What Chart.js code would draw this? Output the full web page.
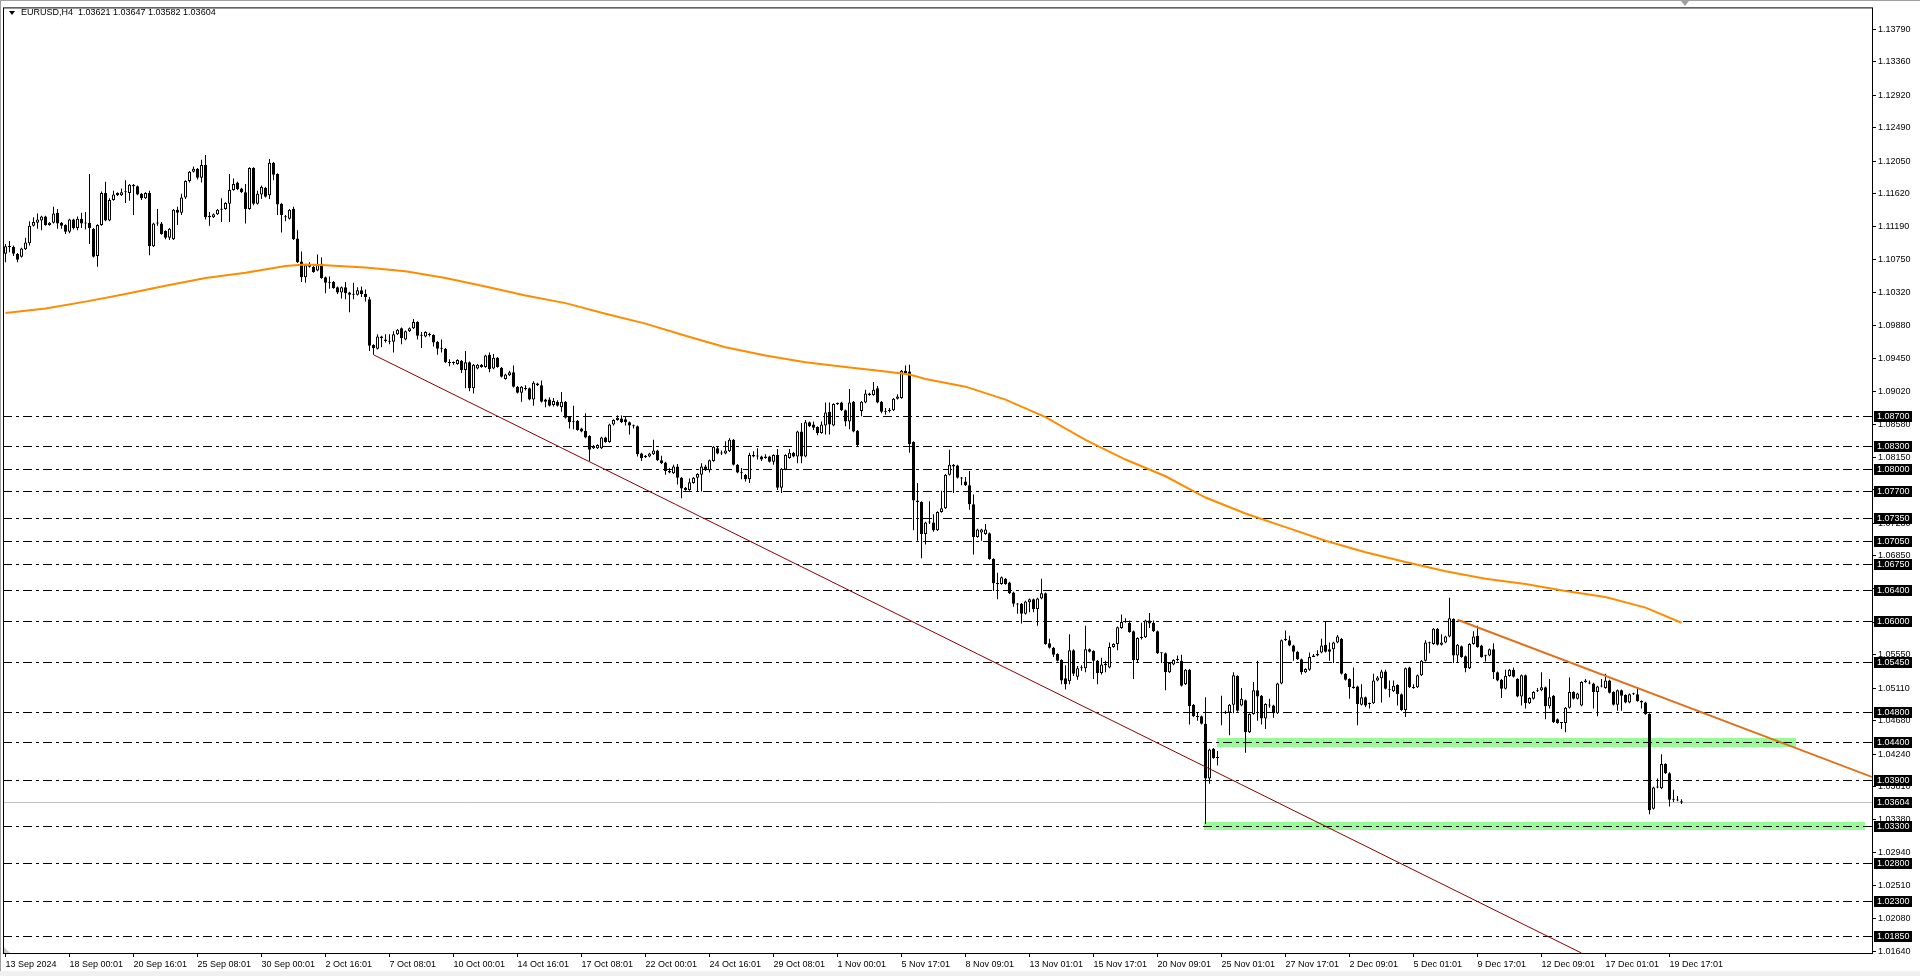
<!DOCTYPE html>
<html>
<head>
<meta charset="utf-8">
<title>EURUSD,H4</title>
<script src="https://cdn.jsdelivr.net/npm/chart.js@4.4.1/dist/chart.umd.min.js"></script>
<style>
  html, body { margin: 0; padding: 0; background: #fff; overflow: hidden; }
  #wrap { position: relative; width: 1920px; height: 976px; }
  #chart { display: block; }
  #tri { position: absolute; left: 9px; top: 11px; width: 0; height: 0;
         border-left: 3px solid transparent; border-right: 3px solid transparent; border-top: 4px solid #000; }
  #header { position: absolute; left: 21px; top: 7px; font: 9px "Liberation Sans", Arial, sans-serif;
            line-height: 11px; color: #000; white-space: pre; }
</style>
</head>
<body>
<div id="wrap">
  <canvas id="chart" width="1920" height="976"></canvas>
  <div id="tri"></div>
  <div id="header"></div>
</div>
<script>
/* ================= DATA ================= */
const symbol = "EURUSD,H4";

// one H4 bar per entry, 13 Sep 2024 08:00 -> 20 Dec 2024
const opens = [
  1.1083, 1.1093, 1.1092, 1.1083, 1.1079, 1.1089, 1.1097, 1.1120, 1.1124, 1.1127,
  1.1132, 1.1121, 1.1124, 1.1137, 1.1124, 1.1121, 1.1112, 1.1128, 1.1117, 1.1129,
  1.1123, 1.1124, 1.1116, 1.1080, 1.1121, 1.1163, 1.1127, 1.1154, 1.1163, 1.1160,
  1.1164, 1.1163, 1.1174, 1.1172, 1.1162, 1.1156, 1.1163, 1.1093, 1.1123, 1.1123,
  1.1113, 1.1104, 1.1102, 1.1141, 1.1137, 1.1157, 1.1179, 1.1191, 1.1195, 1.1183,
  1.1200, 1.1131, 1.1131, 1.1135, 1.1141, 1.1142, 1.1149, 1.1167, 1.1177, 1.1169,
  1.1164, 1.1142, 1.1196, 1.1149, 1.1161, 1.1170, 1.1160, 1.1203, 1.1188, 1.1149,
  1.1131, 1.1129, 1.1142, 1.1103, 1.1073, 1.1052, 1.1066, 1.1066, 1.1061, 1.1070,
  1.1052, 1.1045, 1.1046, 1.1039, 1.1032, 1.1039, 1.1032, 1.1029, 1.1029, 1.1035,
  1.1030, 1.1023, 1.0963, 1.0958, 1.0974, 1.0970, 1.0968, 1.0967, 1.0977, 1.0985,
  1.0970, 1.0981, 1.0985, 1.0993, 1.0975, 1.0974, 1.0977, 1.0976, 1.0967, 1.0959,
  1.0958, 1.0940, 1.0939, 1.0938, 1.0942, 1.0930, 1.0940, 1.0906, 1.0932, 1.0937,
  1.0934, 1.0950, 1.0932, 1.0946, 1.0933, 1.0918, 1.0923, 1.0927, 1.0908, 1.0900,
  1.0906, 1.0906, 1.0891, 1.0912, 1.0910, 1.0891, 1.0891, 1.0884, 1.0888, 1.0881,
  1.0888, 1.0868, 1.0861, 1.0863, 1.0853, 1.0850, 1.0843, 1.0827, 1.0827, 1.0827,
  1.0841, 1.0835, 1.0858, 1.0864, 1.0866, 1.0865, 1.0861, 1.0857, 1.0856, 1.0820,
  1.0815, 1.0816, 1.0819, 1.0824, 1.0811, 1.0808, 1.0795, 1.0794, 1.0803, 1.0788,
  1.0775, 1.0772, 1.0781, 1.0788, 1.0792, 1.0803, 1.0798, 1.0810, 1.0827, 1.0821,
  1.0820, 1.0823, 1.0838, 1.0805, 1.0795, 1.0792, 1.0786, 1.0816, 1.0817, 1.0816,
  1.0814, 1.0816, 1.0809, 1.0818, 1.0775, 1.0799, 1.0814, 1.0821, 1.0816, 1.0849,
  1.0816, 1.0861, 1.0858, 1.0855, 1.0847, 1.0857, 1.0875, 1.0857, 1.0885, 1.0887,
  1.0877, 1.0862, 1.0888, 1.0850, 1.0876, 1.0887, 1.0899, 1.0897, 1.0906, 1.0888,
  1.0875, 1.0876, 1.0877, 1.0892, 1.0893, 1.0929, 1.0928, 1.0835, 1.0758, 1.0756,
  1.0714, 1.0729, 1.0729, 1.0719, 1.0743, 1.0748, 1.0792, 1.0805, 1.0804, 1.0788,
  1.0783, 1.0778, 1.0753, 1.0710, 1.0716, 1.0714, 1.0715, 1.0681, 1.0649, 1.0648,
  1.0655, 1.0650, 1.0637, 1.0622, 1.0622, 1.0609, 1.0624, 1.0628, 1.0615, 1.0629,
  1.0636, 1.0570, 1.0564, 1.0556, 1.0548, 1.0524, 1.0520, 1.0561, 1.0526, 1.0537,
  1.0537, 1.0562, 1.0560, 1.0547, 1.0531, 1.0541, 1.0538, 1.0565, 1.0569, 1.0590,
  1.0598, 1.0597, 1.0586, 1.0548, 1.0577, 1.0578, 1.0600, 1.0597, 1.0586, 1.0557,
  1.0557, 1.0532, 1.0542, 1.0548, 1.0547, 1.0516, 1.0535, 1.0489, 1.0474, 1.0474,
  1.0464, 1.0392, 1.0431, 1.0419, 1.0478, 1.0480, 1.0479, 1.0489, 1.0527, 1.0488,
  1.0495, 1.0453, 1.0477, 1.0508, 1.0501, 1.0471, 1.0489, 1.0488, 1.0478, 1.0517,
  1.0574, 1.0574, 1.0567, 1.0559, 1.0549, 1.0532, 1.0535, 1.0552, 1.0554, 1.0558,
  1.0568, 1.0562, 1.0562, 1.0571, 1.0576, 1.0530, 1.0523, 1.0513, 1.0513, 1.0489,
  1.0499, 1.0490, 1.0491, 1.0521, 1.0524, 1.0533, 1.0509, 1.0507, 1.0515, 1.0503,
  1.0482, 1.0538, 1.0512, 1.0512, 1.0528, 1.0547, 1.0571, 1.0569, 1.0589, 1.0568,
  1.0571, 1.0579, 1.0602, 1.0554, 1.0566, 1.0553, 1.0537, 1.0569, 1.0580, 1.0567,
  1.0553, 1.0554, 1.0562, 1.0532, 1.0522, 1.0510, 1.0527, 1.0535, 1.0523, 1.0500,
  1.0528, 1.0491, 1.0497, 1.0507, 1.0508, 1.0512, 1.0487, 1.0501, 1.0470, 1.0465,
  1.0465, 1.0485, 1.0506, 1.0497, 1.0488, 1.0519, 1.0518, 1.0517, 1.0506, 1.0513,
  1.0511, 1.0521, 1.0506, 1.0489, 1.0508, 1.0502, 1.0492, 1.0503, 1.0503, 1.0494,
  1.0492, 1.0477, 1.0352, 1.0380, 1.0379, 1.0411, 1.0399, 1.0364, 1.0364, 1.03621
];
const highs = [
  1.1096, 1.1100, 1.1094, 1.1084, 1.1091, 1.1104, 1.1126, 1.1131, 1.1136, 1.1133,
  1.1133, 1.1125, 1.1145, 1.1142, 1.1125, 1.1122, 1.1129, 1.1129, 1.1132, 1.1137,
  1.1138, 1.1188, 1.1117, 1.1122, 1.1165, 1.1178, 1.1156, 1.1166, 1.1164, 1.1169,
  1.1180, 1.1175, 1.1175, 1.1173, 1.1163, 1.1164, 1.1166, 1.1124, 1.1142, 1.1125,
  1.1114, 1.1117, 1.1142, 1.1145, 1.1162, 1.1180, 1.1192, 1.1198, 1.1196, 1.1207,
  1.1213, 1.1138, 1.1136, 1.1142, 1.1156, 1.1151, 1.1188, 1.1182, 1.1178, 1.1170,
  1.1175, 1.1197, 1.1197, 1.1166, 1.1173, 1.1171, 1.1208, 1.1204, 1.1189, 1.1150,
  1.1134, 1.1142, 1.1145, 1.1114, 1.1086, 1.1069, 1.1072, 1.1067, 1.1082, 1.1078,
  1.1053, 1.1053, 1.1047, 1.1040, 1.1040, 1.1046, 1.1033, 1.1045, 1.1039, 1.1040,
  1.1036, 1.1026, 1.0964, 1.0977, 1.0975, 1.0977, 1.0977, 1.0981, 1.0984, 1.0986,
  1.0982, 1.0986, 1.0997, 1.0994, 1.0980, 1.0981, 1.0979, 1.0977, 1.0968, 1.0970,
  1.0959, 1.0944, 1.0941, 1.0944, 1.0943, 1.0955, 1.0941, 1.0938, 1.0938, 1.0938,
  1.0950, 1.0953, 1.0951, 1.0947, 1.0934, 1.0925, 1.0929, 1.0936, 1.0909, 1.0909,
  1.0910, 1.0907, 1.0915, 1.0913, 1.0916, 1.0892, 1.0894, 1.0893, 1.0890, 1.0901,
  1.0889, 1.0869, 1.0883, 1.0864, 1.0854, 1.0873, 1.0844, 1.0831, 1.0832, 1.0842,
  1.0842, 1.0859, 1.0865, 1.0870, 1.0870, 1.0868, 1.0862, 1.0858, 1.0857, 1.0821,
  1.0818, 1.0821, 1.0838, 1.0825, 1.0817, 1.0809, 1.0801, 1.0805, 1.0806, 1.0789,
  1.0776, 1.0787, 1.0789, 1.0794, 1.0807, 1.0805, 1.0812, 1.0830, 1.0830, 1.0824,
  1.0836, 1.0840, 1.0839, 1.0806, 1.0801, 1.0793, 1.0821, 1.0823, 1.0827, 1.0817,
  1.0819, 1.0817, 1.0819, 1.0826, 1.0801, 1.0819, 1.0826, 1.0822, 1.0850, 1.0860,
  1.0864, 1.0862, 1.0862, 1.0856, 1.0862, 1.0887, 1.0887, 1.0886, 1.0887, 1.0888,
  1.0878, 1.0905, 1.0889, 1.0851, 1.0889, 1.0904, 1.0900, 1.0914, 1.0909, 1.0889,
  1.0880, 1.0880, 1.0893, 1.0898, 1.0930, 1.0936, 1.0937, 1.0836, 1.0781, 1.0757,
  1.0730, 1.0757, 1.0740, 1.0744, 1.0771, 1.0793, 1.0825, 1.0806, 1.0805, 1.0789,
  1.0789, 1.0797, 1.0766, 1.0721, 1.0721, 1.0727, 1.0716, 1.0682, 1.0663, 1.0658,
  1.0656, 1.0651, 1.0638, 1.0623, 1.0623, 1.0626, 1.0629, 1.0629, 1.0630, 1.0655,
  1.0637, 1.0576, 1.0565, 1.0557, 1.0549, 1.0541, 1.0582, 1.0562, 1.0540, 1.0541,
  1.0593, 1.0563, 1.0561, 1.0548, 1.0551, 1.0547, 1.0571, 1.0570, 1.0592, 1.0608,
  1.0603, 1.0600, 1.0587, 1.0578, 1.0597, 1.0601, 1.0610, 1.0600, 1.0587, 1.0558,
  1.0558, 1.0545, 1.0549, 1.0554, 1.0555, 1.0536, 1.0536, 1.0490, 1.0479, 1.0475,
  1.0499, 1.0431, 1.0432, 1.0428, 1.0501, 1.0481, 1.0490, 1.0532, 1.0528, 1.0511,
  1.0496, 1.0478, 1.0519, 1.0547, 1.0502, 1.0491, 1.0497, 1.0489, 1.0518, 1.0575,
  1.0587, 1.0580, 1.0568, 1.0560, 1.0550, 1.0537, 1.0558, 1.0556, 1.0561, 1.0576,
  1.0599, 1.0571, 1.0572, 1.0581, 1.0577, 1.0531, 1.0524, 1.0538, 1.0514, 1.0516,
  1.0500, 1.0492, 1.0530, 1.0527, 1.0535, 1.0535, 1.0521, 1.0521, 1.0516, 1.0504,
  1.0538, 1.0539, 1.0516, 1.0529, 1.0548, 1.0574, 1.0572, 1.0590, 1.0590, 1.0582,
  1.0580, 1.0630, 1.0603, 1.0569, 1.0567, 1.0554, 1.0570, 1.0586, 1.0593, 1.0568,
  1.0555, 1.0563, 1.0570, 1.0533, 1.0523, 1.0535, 1.0536, 1.0538, 1.0524, 1.0529,
  1.0529, 1.0499, 1.0507, 1.0511, 1.0532, 1.0513, 1.0523, 1.0502, 1.0471, 1.0466,
  1.0486, 1.0525, 1.0507, 1.0505, 1.0520, 1.0523, 1.0521, 1.0518, 1.0514, 1.0523,
  1.0530, 1.0522, 1.0507, 1.0509, 1.0509, 1.0503, 1.0504, 1.0505, 1.0512, 1.0495,
  1.0493, 1.0478, 1.0381, 1.0392, 1.0424, 1.0412, 1.0400, 1.0377, 1.0369, 1.03647
];
const lows = [
  1.1072, 1.1085, 1.1080, 1.1072, 1.1078, 1.1088, 1.1094, 1.1119, 1.1116, 1.1114,
  1.1120, 1.1120, 1.1123, 1.1116, 1.1116, 1.1109, 1.1110, 1.1115, 1.1114, 1.1117,
  1.1115, 1.1096, 1.1078, 1.1066, 1.1120, 1.1126, 1.1126, 1.1153, 1.1159, 1.1159,
  1.1150, 1.1153, 1.1134, 1.1160, 1.1154, 1.1155, 1.1081, 1.1092, 1.1120, 1.1108,
  1.1102, 1.1101, 1.1101, 1.1121, 1.1134, 1.1155, 1.1177, 1.1190, 1.1181, 1.1177,
  1.1128, 1.1120, 1.1130, 1.1134, 1.1125, 1.1141, 1.1125, 1.1166, 1.1167, 1.1163,
  1.1123, 1.1141, 1.1147, 1.1148, 1.1155, 1.1157, 1.1155, 1.1180, 1.1134, 1.1111,
  1.1126, 1.1128, 1.1101, 1.1071, 1.1046, 1.1045, 1.1065, 1.1058, 1.1060, 1.1050,
  1.1031, 1.1037, 1.1037, 1.1030, 1.1024, 1.1023, 1.1006, 1.1023, 1.1028, 1.1026,
  1.1020, 1.0955, 1.0950, 1.0957, 1.0960, 1.0966, 1.0964, 1.0953, 1.0976, 1.0964,
  1.0969, 1.0980, 1.0984, 1.0970, 1.0959, 1.0973, 1.0974, 1.0961, 1.0950, 1.0953,
  1.0939, 1.0935, 1.0937, 1.0937, 1.0926, 1.0906, 1.0902, 1.0899, 1.0931, 1.0933,
  1.0933, 1.0927, 1.0931, 1.0933, 1.0920, 1.0917, 1.0922, 1.0907, 1.0899, 1.0888,
  1.0903, 1.0890, 1.0883, 1.0909, 1.0887, 1.0881, 1.0882, 1.0882, 1.0882, 1.0875,
  1.0866, 1.0853, 1.0852, 1.0850, 1.0848, 1.0840, 1.0810, 1.0826, 1.0826, 1.0826,
  1.0834, 1.0834, 1.0857, 1.0863, 1.0860, 1.0857, 1.0845, 1.0853, 1.0816, 1.0810,
  1.0814, 1.0815, 1.0818, 1.0810, 1.0806, 1.0792, 1.0794, 1.0793, 1.0779, 1.0761,
  1.0771, 1.0771, 1.0780, 1.0770, 1.0770, 1.0797, 1.0795, 1.0809, 1.0819, 1.0818,
  1.0819, 1.0822, 1.0804, 1.0794, 1.0786, 1.0783, 1.0781, 1.0815, 1.0812, 1.0810,
  1.0813, 1.0808, 1.0805, 1.0772, 1.0768, 1.0798, 1.0813, 1.0815, 1.0807, 1.0807,
  1.0815, 1.0855, 1.0851, 1.0844, 1.0846, 1.0845, 1.0845, 1.0856, 1.0884, 1.0876,
  1.0856, 1.0852, 1.0848, 1.0830, 1.0869, 1.0886, 1.0896, 1.0896, 1.0886, 1.0873,
  1.0871, 1.0874, 1.0876, 1.0891, 1.0892, 1.0925, 1.0821, 1.0719, 1.0705, 1.0682,
  1.0700, 1.0727, 1.0717, 1.0718, 1.0742, 1.0747, 1.0791, 1.0768, 1.0787, 1.0778,
  1.0777, 1.0746, 1.0687, 1.0709, 1.0705, 1.0713, 1.0680, 1.0639, 1.0628, 1.0647,
  1.0647, 1.0635, 1.0618, 1.0609, 1.0596, 1.0608, 1.0611, 1.0611, 1.0593, 1.0628,
  1.0568, 1.0563, 1.0552, 1.0546, 1.0516, 1.0509, 1.0516, 1.0527, 1.0522, 1.0534,
  1.0532, 1.0558, 1.0523, 1.0516, 1.0529, 1.0532, 1.0537, 1.0564, 1.0561, 1.0589,
  1.0597, 1.0584, 1.0523, 1.0544, 1.0575, 1.0577, 1.0590, 1.0585, 1.0556, 1.0544,
  1.0508, 1.0531, 1.0541, 1.0546, 1.0513, 1.0515, 1.0463, 1.0473, 1.0468, 1.0463,
  1.0332, 1.0385, 1.0418, 1.0409, 1.0462, 1.0477, 1.0449, 1.0478, 1.0480, 1.0487,
  1.0426, 1.0452, 1.0476, 1.0468, 1.0463, 1.0457, 1.0485, 1.0472, 1.0477, 1.0516,
  1.0573, 1.0566, 1.0547, 1.0548, 1.0529, 1.0531, 1.0534, 1.0552, 1.0553, 1.0557,
  1.0558, 1.0547, 1.0544, 1.0570, 1.0529, 1.0521, 1.0497, 1.0510, 1.0462, 1.0488,
  1.0486, 1.0484, 1.0490, 1.0520, 1.0492, 1.0509, 1.0499, 1.0506, 1.0488, 1.0481,
  1.0473, 1.0511, 1.0510, 1.0511, 1.0527, 1.0546, 1.0557, 1.0568, 1.0567, 1.0567,
  1.0570, 1.0578, 1.0544, 1.0544, 1.0551, 1.0532, 1.0536, 1.0568, 1.0564, 1.0551,
  1.0546, 1.0553, 1.0523, 1.0520, 1.0498, 1.0509, 1.0526, 1.0525, 1.0499, 1.0488,
  1.0484, 1.0490, 1.0496, 1.0506, 1.0507, 1.0470, 1.0484, 1.0465, 1.0464, 1.0457,
  1.0453, 1.0484, 1.0496, 1.0496, 1.0487, 1.0518, 1.0516, 1.0484, 1.0474, 1.0512,
  1.0510, 1.0504, 1.0488, 1.0481, 1.0481, 1.0491, 1.0491, 1.0502, 1.0493, 1.0484,
  1.0476, 1.0345, 1.0351, 1.0379, 1.0378, 1.0398, 1.0355, 1.0361, 1.0362, 1.03582
];
const closes = [
  1.1093, 1.1092, 1.1083, 1.1075, 1.1090, 1.1098, 1.1120, 1.1125, 1.1128, 1.1132,
  1.1121, 1.1124, 1.1136, 1.1123, 1.1120, 1.1112, 1.1128, 1.1117, 1.1129, 1.1123,
  1.1124, 1.1117, 1.1079, 1.1121, 1.1163, 1.1127, 1.1154, 1.1161, 1.1160, 1.1164,
  1.1165, 1.1174, 1.1172, 1.1161, 1.1156, 1.1163, 1.1093, 1.1123, 1.1124, 1.1109,
  1.1104, 1.1116, 1.1141, 1.1137, 1.1157, 1.1179, 1.1191, 1.1195, 1.1183, 1.1200,
  1.1131, 1.1133, 1.1135, 1.1141, 1.1142, 1.1150, 1.1167, 1.1175, 1.1168, 1.1164,
  1.1142, 1.1196, 1.1149, 1.1162, 1.1171, 1.1158, 1.1203, 1.1187, 1.1148, 1.1134,
  1.1131, 1.1141, 1.1102, 1.1072, 1.1052, 1.1068, 1.1069, 1.1059, 1.1069, 1.1051,
  1.1045, 1.1045, 1.1038, 1.1032, 1.1039, 1.1031, 1.1029, 1.1029, 1.1035, 1.1030,
  1.1026, 1.0962, 1.0959, 1.0974, 1.0972, 1.0968, 1.0967, 1.0977, 1.0983, 1.0972,
  1.0981, 1.0985, 1.0993, 1.0975, 1.0975, 1.0980, 1.0976, 1.0966, 1.0958, 1.0958,
  1.0940, 1.0939, 1.0939, 1.0943, 1.0930, 1.0940, 1.0906, 1.0937, 1.0937, 1.0934,
  1.0949, 1.0931, 1.0946, 1.0934, 1.0921, 1.0924, 1.0927, 1.0908, 1.0900, 1.0908,
  1.0905, 1.0891, 1.0913, 1.0910, 1.0888, 1.0888, 1.0883, 1.0889, 1.0883, 1.0888,
  1.0867, 1.0861, 1.0862, 1.0851, 1.0849, 1.0841, 1.0825, 1.0830, 1.0831, 1.0841,
  1.0835, 1.0858, 1.0864, 1.0867, 1.0861, 1.0861, 1.0857, 1.0856, 1.0819, 1.0814,
  1.0817, 1.0820, 1.0824, 1.0811, 1.0807, 1.0797, 1.0797, 1.0803, 1.0788, 1.0774,
  1.0772, 1.0782, 1.0788, 1.0793, 1.0803, 1.0798, 1.0811, 1.0829, 1.0820, 1.0820,
  1.0824, 1.0838, 1.0805, 1.0795, 1.0794, 1.0786, 1.0818, 1.0818, 1.0816, 1.0812,
  1.0816, 1.0809, 1.0818, 1.0775, 1.0800, 1.0818, 1.0821, 1.0816, 1.0849, 1.0816,
  1.0861, 1.0856, 1.0854, 1.0847, 1.0858, 1.0874, 1.0858, 1.0885, 1.0886, 1.0877,
  1.0862, 1.0887, 1.0849, 1.0831, 1.0888, 1.0899, 1.0897, 1.0904, 1.0887, 1.0875,
  1.0875, 1.0877, 1.0892, 1.0895, 1.0929, 1.0926, 1.0832, 1.0758, 1.0756, 1.0714,
  1.0729, 1.0729, 1.0719, 1.0743, 1.0748, 1.0792, 1.0805, 1.0803, 1.0788, 1.0787,
  1.0778, 1.0753, 1.0710, 1.0720, 1.0720, 1.0720, 1.0681, 1.0649, 1.0648, 1.0657,
  1.0648, 1.0636, 1.0622, 1.0621, 1.0609, 1.0625, 1.0628, 1.0615, 1.0629, 1.0636,
  1.0569, 1.0564, 1.0555, 1.0547, 1.0521, 1.0516, 1.0561, 1.0530, 1.0537, 1.0537,
  1.0562, 1.0559, 1.0547, 1.0531, 1.0542, 1.0543, 1.0565, 1.0569, 1.0591, 1.0598,
  1.0599, 1.0585, 1.0548, 1.0577, 1.0578, 1.0600, 1.0596, 1.0586, 1.0557, 1.0557,
  1.0532, 1.0544, 1.0548, 1.0548, 1.0514, 1.0535, 1.0487, 1.0474, 1.0473, 1.0464,
  1.0392, 1.0430, 1.0419, 1.0419, 1.0479, 1.0478, 1.0489, 1.0528, 1.0481, 1.0497,
  1.0453, 1.0477, 1.0508, 1.0500, 1.0471, 1.0490, 1.0488, 1.0478, 1.0517, 1.0574,
  1.0576, 1.0567, 1.0559, 1.0549, 1.0532, 1.0536, 1.0552, 1.0554, 1.0556, 1.0567,
  1.0559, 1.0559, 1.0571, 1.0579, 1.0530, 1.0522, 1.0512, 1.0511, 1.0490, 1.0499,
  1.0488, 1.0491, 1.0521, 1.0525, 1.0533, 1.0510, 1.0508, 1.0514, 1.0503, 1.0482,
  1.0537, 1.0512, 1.0511, 1.0528, 1.0547, 1.0571, 1.0570, 1.0589, 1.0568, 1.0571,
  1.0579, 1.0603, 1.0554, 1.0568, 1.0552, 1.0537, 1.0569, 1.0579, 1.0565, 1.0552,
  1.0554, 1.0562, 1.0532, 1.0521, 1.0510, 1.0527, 1.0535, 1.0526, 1.0500, 1.0528,
  1.0491, 1.0498, 1.0506, 1.0508, 1.0512, 1.0487, 1.0499, 1.0466, 1.0465, 1.0465,
  1.0485, 1.0506, 1.0497, 1.0504, 1.0519, 1.0521, 1.0517, 1.0506, 1.0513, 1.0513,
  1.0521, 1.0505, 1.0489, 1.0508, 1.0501, 1.0492, 1.0503, 1.0503, 1.0494, 1.0492,
  1.0477, 1.0350, 1.0380, 1.0381, 1.0411, 1.0399, 1.0364, 1.0364, 1.0363, 1.03604
];

// moving average, read at these bar numbers
const maBars = [0, 10, 20, 30, 40, 50, 60, 70, 75, 80, 90, 100, 110, 120, 130, 140, 150, 160, 170, 180,
  190, 200, 210, 220, 226, 230, 240, 250, 260, 270, 280, 290, 300, 310, 320, 330, 340, 350, 360, 370,
  380, 390, 400, 410, 419];
const maValues = [1.1005, 1.1011, 1.1020, 1.1030, 1.1041, 1.1051, 1.1058, 1.1067, 1.1069, 1.1068,
  1.1065, 1.1060, 1.1051, 1.1040, 1.1028, 1.1018, 1.1004, 1.0991, 1.0975, 1.0960,
  1.0949, 1.0940, 1.0934, 1.0928, 1.0924, 1.0918, 1.0908, 1.0891, 1.0868, 1.0838,
  1.0812, 1.0790, 1.0762, 1.0741, 1.0723, 1.0705, 1.0690, 1.0677, 1.0665, 1.0655,
  1.0648, 1.0639, 1.0631, 1.0617, 1.0597];

// trend lines (bar number, price)
const redTrendBars = [92, 394];
const redTrendPrices = [1.0950, 1.0162];
const orangeTrendBars = [363, 466.6];
const orangeTrendPrices = [1.0601, 1.0394];

// horizontal levels
const levels = [1.0870, 1.0830, 1.0800, 1.0770, 1.0735, 1.0705, 1.0675, 1.0640, 1.0600,
  1.0545, 1.0480, 1.0440, 1.0390, 1.0330, 1.0280, 1.0230, 1.0185];
const bidPrice = 1.03604;

// green zones
const zoneFrom = [302.9, 299.6];
const zoneTo = [447.6, 464.9];
const zoneTop = [1.0445, 1.0334];
const zoneBottom = [1.0433, 1.0324];

// axis ticks
const priceTicks = [1.1379, 1.1336, 1.1292, 1.1249, 1.1205, 1.1162, 1.1119, 1.1075, 1.1032, 1.0988,
  1.0945, 1.0902, 1.0858, 1.0815, 1.0772, 1.0728, 1.0685, 1.0642, 1.0598, 1.0555,
  1.0511, 1.0468, 1.0424, 1.0381, 1.0338, 1.0294, 1.0251, 1.0208, 1.0164];
const timeLabels = ["13 Sep 2024", "18 Sep 00:01", "20 Sep 16:01", "25 Sep 08:01", "30 Sep 00:01",
  "2 Oct 16:01", "7 Oct 08:01", "10 Oct 00:01", "14 Oct 16:01", "17 Oct 08:01", "22 Oct 00:01",
  "24 Oct 16:01", "29 Oct 08:01", "1 Nov 00:01", "5 Nov 17:01", "8 Nov 09:01", "13 Nov 01:01",
  "15 Nov 17:01", "20 Nov 09:01", "25 Nov 01:01", "27 Nov 17:01", "2 Dec 09:01", "5 Dec 01:01",
  "9 Dec 17:01", "12 Dec 09:01", "17 Dec 01:01", "19 Dec 17:01"];
const barsPerLabel = 16;

/* ================= HEADER ================= */
const last = closes.length - 1;
document.getElementById("header").textContent =
  symbol + "  " + [opens[last], highs[last], lows[last], closes[last]].map(v => v.toFixed(5)).join(" ");

/* ================= PLUGIN: levels, zones, labels ================= */
const FONT = "9px 'Liberation Sans', Arial, sans-serif";

const terminalPlugin = {
    id: "terminal",
    beforeDraw(chart) {
        const ctx = chart.ctx;
        ctx.save();
        ctx.fillStyle = "#ffffff";
        ctx.fillRect(0, 0, chart.width, chart.height);
        ctx.fillStyle = "#a0a0a0";
        ctx.fillRect(0, 0, chart.width, 1);
        ctx.fillRect(0, 0, 1, chart.height);
        ctx.fillStyle = "#f0f0f0";
        ctx.fillRect(0, chart.height - 5, chart.width, 5);
        ctx.restore();
    },
    beforeDatasetsDraw(chart) {
        const { ctx, chartArea: a, scales: { x, y } } = chart;
        ctx.save();
        ctx.beginPath();
        ctx.rect(a.left, a.top, a.right - a.left, a.bottom - a.top);
        ctx.clip();

        ctx.fillStyle = "#98fb98";
        zoneFrom.forEach((f, k) => {
            const x1 = Math.round(x.getPixelForValue(f));
            const x2 = Math.round(x.getPixelForValue(zoneTo[k]));
            const y1 = Math.round(y.getPixelForValue(zoneTop[k]));
            const y2 = Math.round(y.getPixelForValue(zoneBottom[k]));
            ctx.fillRect(x1, y1, x2 - x1, y2 - y1);
        });

        ctx.lineWidth = 1;
        ctx.strokeStyle = "#000000";
        ctx.setLineDash([9, 4, 3, 4]);
        levels.forEach(v => {
            const py = Math.round(y.getPixelForValue(v)) + 0.5;
            ctx.beginPath();
            ctx.moveTo(a.left, py);
            ctx.lineTo(a.right, py);
            ctx.stroke();
        });
        ctx.setLineDash([]);

        ctx.strokeStyle = "#c0c0c0";
        const by = Math.round(y.getPixelForValue(bidPrice)) + 0.5;
        ctx.beginPath();
        ctx.moveTo(a.left, by);
        ctx.lineTo(a.right, by);
        ctx.stroke();
        ctx.restore();
    },
    afterDraw(chart) {
        const { ctx, chartArea: a, scales: { x, y } } = chart;
        ctx.save();
        // frame
        ctx.strokeStyle = "#000000";
        ctx.lineWidth = 1;
        ctx.strokeRect(a.left + 0.5, a.top + 0.5, a.right - a.left, a.bottom - a.top);

        // price boxes on the axis
        ctx.font = FONT;
        ctx.textBaseline = "middle";
        ctx.textAlign = "left";
        levels.concat([bidPrice]).forEach(v => {
            const py = Math.round(y.getPixelForValue(v));
            ctx.fillStyle = "#000000";
            ctx.fillRect(a.right + 2, py - 5, 38, 11);
            ctx.fillStyle = "#ffffff";
            ctx.fillText(v.toFixed(5), a.right + 5, py + 0.5);
        });

        // shift marker and scroll marker
        ctx.fillStyle = "#a0a0a0";
        const sx = Math.round(x.getPixelForValue(last)) + 3;
        ctx.beginPath();
        ctx.moveTo(sx - 4, 1);
        ctx.lineTo(sx + 4, 1);
        ctx.lineTo(sx, 6);
        ctx.closePath();
        ctx.fill();
        ctx.fillStyle = "#c8c8c8";
        ctx.beginPath();
        ctx.moveTo(a.left + 1, a.bottom - 6);
        ctx.lineTo(a.left + 1, a.bottom);
        ctx.lineTo(a.left + 7, a.bottom);
        ctx.closePath();
        ctx.fill();
        ctx.restore();
    }
};

/* ================= CHART ================= */
Chart.defaults.font.family = "'Liberation Sans', Arial, sans-serif";
Chart.defaults.font.size = 9;
Chart.defaults.color = "#000000";

const barIndex = closes.map((_, i) => i);

const ctx = document.getElementById("chart");
new Chart(ctx, {
    type: "bar",
    data: {
        datasets: [
            {
                type: "line",
                label: "trend 2",
                data: orangeTrendBars.map((b, k) => ({ x: b, y: orangeTrendPrices[k] })),
                borderColor: "#e0701c",
                borderWidth: 2,
                pointRadius: 0,
                fill: false,
                order: 0
            },
            {
                type: "line",
                label: "trend 1",
                data: redTrendBars.map((b, k) => ({ x: b, y: redTrendPrices[k] })),
                borderColor: "#8b0000",
                borderWidth: 1,
                pointRadius: 0,
                fill: false,
                order: 1
            },
            {
                type: "line",
                label: "MA",
                data: maBars.map((b, k) => ({ x: b, y: maValues[k] })),
                borderColor: "#ff8c00",
                borderWidth: 2,
                pointRadius: 0,
                fill: false,
                tension: 0,
                order: 2
            },
            {
                label: "bodies",
                data: barIndex.map(i => ({ x: i, y: [opens[i], closes[i]] })),
                backgroundColor: barIndex.map(i => closes[i] >= opens[i] ? "#ffffff" : "#000000"),
                borderColor: "#000000",
                borderWidth: 1,
                borderSkipped: false,
                grouped: false,
                barPercentage: 1,
                categoryPercentage: 1,
                maxBarThickness: 3,
                minBarLength: 1,
                inflateAmount: 0,
                order: 3
            },
            {
                label: "wicks",
                data: barIndex.map(i => ({ x: i, y: [lows[i], highs[i]] })),
                backgroundColor: "#000000",
                borderWidth: 0,
                grouped: false,
                barPercentage: 1,
                categoryPercentage: 1,
                maxBarThickness: 1,
                minBarLength: 1,
                inflateAmount: 0,
                order: 4
            }
        ]
    },
    options: {
        responsive: false,
        animation: false,
        devicePixelRatio: 1,
        events: [],
        layout: { padding: { left: 3, top: 4, right: 0, bottom: 0 } },
        plugins: { legend: { display: false }, tooltip: { enabled: false } },
        scales: {
            x: {
                type: "linear",
                min: -0.625,
                max: 466.625,
                offset: false,
                grid: { display: true, offset: false, drawOnChartArea: false, drawTicks: true, tickLength: 4, color: "#000000" },
                border: { display: false },
                afterBuildTicks: s => { s.ticks = timeLabels.map((_, k) => ({ value: k * barsPerLabel })); },
                afterFit: s => { s.height = 23; },
                ticks: {
                    autoSkip: false,
                    maxRotation: 0,
                    minRotation: 0,
                    align: "start",
                    padding: 2,
                    callback: (v, k) => timeLabels[k]
                }
            },
            y: {
                type: "linear",
                position: "right",
                min: 1.01621,
                max: 1.14075,
                grid: { display: true, drawOnChartArea: false, drawTicks: true, tickLength: 4, color: "#000000" },
                border: { display: false },
                afterBuildTicks: s => { s.ticks = priceTicks.map(v => ({ value: v })); },
                afterFit: s => { s.width = 48; },
                ticks: {
                    autoSkip: false,
                    padding: 2,
                    callback: v => Number(v).toFixed(5)
                }
            }
        }
    },
    plugins: [terminalPlugin]
});
</script>
</body>
</html>
